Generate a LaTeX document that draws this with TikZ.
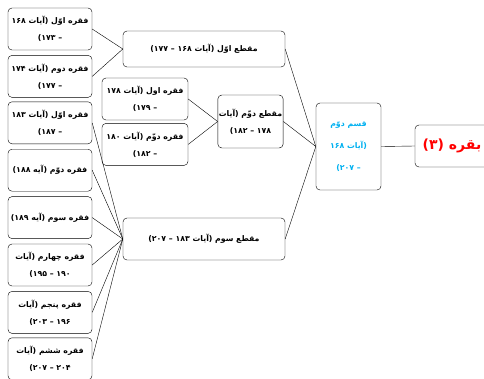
\documentclass[tikz,border=0pt]{standalone}
\usepackage{fontspec}
\usepackage{xcolor}
\newfontfamily\arabicfont[Script=Arabic]{DejaVu Sans}
\TeXXeTstate=1
\usetikzlibrary{positioning}
\definecolor{qcyan}{RGB}{0,176,240}

\begin{document}
\begin{tikzpicture}[x=1pt, y=-1pt,
    box/.style={draw, rectangle, rounded corners=4pt, align=center, inner sep=1pt,
      minimum height=42pt, font=\arabicfont\bfseries\fontsize{7.8}{17}\selectfont},
    leaf/.style={box, minimum width=84pt}]
    \useasboundingbox (0,0) rectangle (484,378);
    \clip (0,0) rectangle (484,378);

    % left column
    \node[leaf] (f1) at (50,29) {\beginR فقره اوّل (آیات ۱۶۸\endR\\\beginR – ۱۷۳)\endR};
    \node[leaf, below=5pt of f1] (f2) {\beginR فقره دوم (آیات ۱۷۴\endR\\\beginR – ۱۷۷)\endR};
    \node[leaf, below=4pt of f2] (f3) {\beginR فقره اوّل (آیات ۱۸۳\endR\\\beginR – ۱۸۷)\endR};
    \node[leaf, below=5pt of f3] (f4) {\beginR فقره دوّم (آیه ۱۸۸)\endR};
    \node[leaf, below=5pt of f4] (f5) {\beginR فقره سوم (آیه ۱۸۹)\endR};
    \node[leaf, below=5pt of f5] (f6) {\beginR فقره چهارم (آیات\endR\\\beginR ۱۹۰ – ۱۹۵)\endR};
    \node[leaf, below=5pt of f6] (f7) {\beginR فقره پنجم (آیات\endR\\\beginR ۱۹۶ – ۲۰۳)\endR};
    \node[leaf, below=4pt of f7] (f8) {\beginR فقره ششم (آیات\endR\\\beginR ۲۰۴ – ۲۰۷)\endR};

    % second column
    \node[box, minimum width=86pt] (g1) at (145,99) {\beginR فقره اول (آیات ۱۷۸\endR\\\beginR – ۱۷۹)\endR};
    \node[box, minimum width=86pt, below=3pt of g1] (g2) {\beginR فقره دوّم (آیات ۱۸۰\endR\\\beginR – ۱۸۲)\endR};

    % sections
    \node[box, minimum width=162pt, minimum height=36pt] (m1) at (204,49) {\beginR مقطع اوّل (آیات ۱۶۸ – ۱۷۷)\endR};
    \node[box, minimum width=65pt, minimum height=53pt] (m2) at (250.5,121.5) {\beginR مقطع دوّم (آیات\endR\\\beginR ۱۷۸ – ۱۸۲)\endR};
    \node[box, minimum width=162pt] (m3) at (204,239) {\beginR مقطع سوم (آیات ۱۸۳ – ۲۰۷)\endR};

    % part and sura
    \node[box, minimum width=65pt, minimum height=87pt, text=qcyan,
        font=\arabicfont\bfseries\fontsize{7.8}{22}\selectfont] (qsm) at (348.5,146.5) {\beginR قسم دوّم\endR\\\beginR (آیات ۱۶۸\endR\\\beginR – ۲۰۷)\endR};
    \node[box, minimum width=74pt, text=red,
        font=\arabicfont\bfseries\fontsize{14}{16}\selectfont] (sura) at (452,146) {\beginR بقره (۳)\endR};

    \draw (f1.east) -- (m1.west);
    \draw (f2.east) -- (m1.west);
    \draw (g1.east) -- (m2.west);
    \draw (g2.east) -- (m2.west);
    \foreach \i in {3,...,8}
        \draw (f\i.east) -- (m3.west);
    \draw (m1.east) -- (qsm.west);
    \draw (m2.east) -- (qsm.west);
    \draw (m3.east) -- (qsm.west);
    \draw (qsm.east) -- (sura.west);
\end{tikzpicture}
\end{document}
